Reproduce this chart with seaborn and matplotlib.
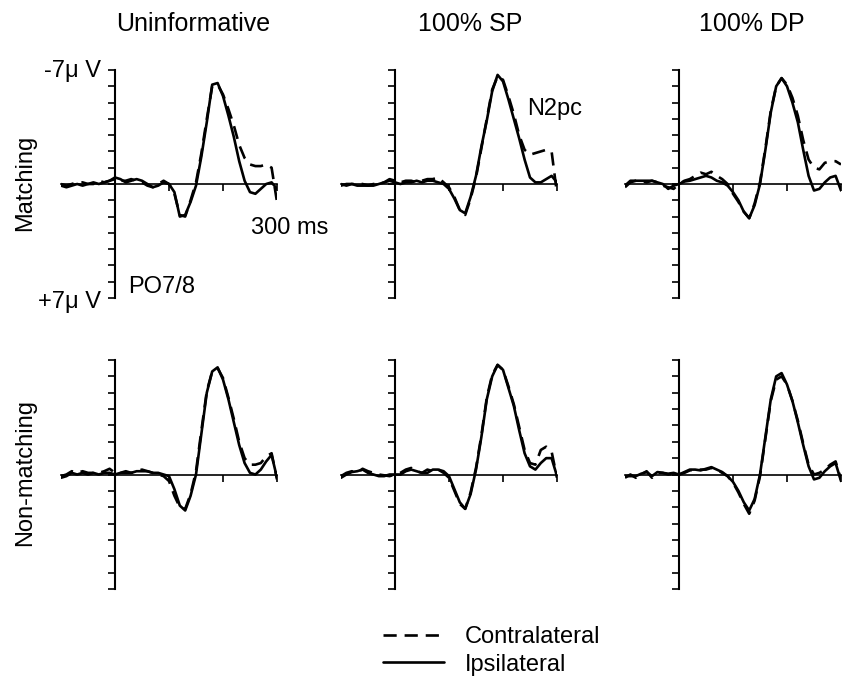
import matplotlib
matplotlib.use("Agg")
import matplotlib.pyplot as plt
import seaborn as sns
import pandas as pd

# ---------------- data (µV, negative plotted upward) ----------------
times = list(range(-100, 301, 10))
columns = ["Uninformative", "100% SP", "100% DP"]
rows = ["Matching", "Non-matching"]
sides = ["Contralateral", "Ipsilateral"]

match_uninf_contra = [0.0, 0.1, 0.0, -0.1, -0.1, 0.0, 0.0, -0.2, -0.1, -0.2, -0.3,
                      -0.2, -0.2, -0.3, -0.2, -0.1, 0.1, 0.2, 0.0, -0.2, 0.0,
                      0.6, 1.9, 2.0, 1.0, -0.1, -1.9, -4.0, -6.0, -6.1, -5.5,
                      -4.6, -3.6, -2.4, -1.6, -1.2, -1.1, -1.1, -1.2, -1.0, 1.1]
match_uninf_ipsi = [0.1, 0.2, 0.1, 0.0, 0.1, 0.0, -0.1, 0.0, -0.1, -0.2, -0.4,
                    -0.3, -0.1, -0.2, -0.3, -0.2, 0.0, 0.2, 0.1, -0.1, 0.0,
                    0.5, 2.0, 1.9, 1.1, 0.1, -1.7, -3.8, -6.1, -6.2, -5.4,
                    -4.2, -2.9, -1.4, -0.2, 0.5, 0.6, 0.3, 0.0, -0.1, 0.3]
match_sp_contra = [0.0, 0.1, 0.0, 0.0, 0.0, 0.1, 0.0, 0.0, -0.1, -0.3, -0.2,
                   -0.1, -0.2, -0.2, -0.1, -0.2, -0.3, -0.3, -0.4, -0.1, 0.2,
                   0.8, 1.6, 1.9, 0.9, -0.4, -2.2, -4.0, -5.8, -6.6, -6.4,
                   -5.4, -4.3, -3.0, -2.1, -1.8, -1.9, -2.0, -2.1, -2.0, 0.6]
match_sp_ipsi = [0.1, 0.0, 0.0, 0.1, 0.1, 0.1, 0.1, 0.0, -0.1, -0.2, -0.1,
                 0.0, -0.1, -0.1, -0.2, -0.1, -0.2, -0.2, -0.1, 0.0, 0.3,
                 0.9, 1.6, 1.8, 0.8, -0.5, -2.3, -3.9, -5.7, -6.7, -6.3,
                 -5.2, -4.0, -2.8, -1.5, -0.4, -0.1, -0.1, -0.3, -0.5, -0.1]
match_dp_contra = [0.2, -0.1, -0.2, -0.2, -0.1, -0.2, -0.1, 0.1, 0.2, 0.3, 0.0,
                   -0.2, -0.3, -0.5, -0.7, -0.6, -0.75, -0.5, -0.3, 0.0, 0.6,
                   1.1, 1.7, 2.1, 1.2, -0.1, -2.2, -4.5, -6.0, -6.5, -6.1,
                   -5.3, -4.2, -2.7, -1.5, -1.0, -0.9, -1.3, -1.4, -1.4, -1.2]
match_dp_ipsi = [0.1, -0.2, -0.2, -0.2, -0.2, -0.2, -0.1, 0.0, 0.3, 0.1, 0.0,
                 -0.15, -0.2, -0.3, -0.4, -0.5, -0.4, -0.2, -0.1, 0.1, 0.5,
                 1.0, 1.7, 2.1, 1.3, 0.0, -2.1, -4.4, -6.0, -6.5, -6.0,
                 -5.0, -3.8, -2.1, -0.5, 0.4, 0.3, -0.1, -0.4, -0.5, 0.4]
nonmatch_uninf_contra = [0.1, 0.0, -0.2, -0.1, -0.2, -0.1, -0.1, -0.1, -0.2, -0.35, -0.1,
                         -0.1, -0.2, -0.1, -0.2, -0.3, -0.2, -0.1, 0.0, 0.1, 0.4,
                         1.3, 2.0, 2.1, 1.2, -0.2, -2.7, -5.1, -6.3, -6.5, -5.9,
                         -4.7, -3.4, -2.0, -1.0, -0.6, -0.6, -0.7, -1.1, -1.3, 0.3]
nonmatch_uninf_ipsi = [0.2, 0.1, -0.1, 0.0, -0.1, 0.0, -0.1, 0.0, -0.1, -0.1, 0.0,
                       -0.1, -0.1, -0.1, -0.2, -0.2, -0.2, -0.1, -0.1, 0.0, 0.1,
                       0.9, 1.9, 2.2, 1.3, 0.0, -2.5, -5.0, -6.3, -6.55, -5.8,
                       -4.6, -3.2, -1.8, -0.7, -0.1, 0.0, -0.3, -0.8, -1.2, 0.2]
nonmatch_sp_contra = [0.1, -0.1, -0.2, -0.1, -0.35, -0.2, -0.1, 0.0, 0.05, 0.1, 0.0,
                      -0.1, -0.3, -0.4, -0.2, -0.1, -0.3, -0.2, -0.3, -0.1, 0.2,
                      1.0, 1.8, 2.1, 1.1, -0.4, -2.4, -4.7, -6.1, -6.7, -6.4,
                      -5.4, -4.3, -2.9, -1.5, -0.7, -0.6, -1.5, -1.7, -1.4, 0.2]
nonmatch_sp_ipsi = [0.2, 0.0, -0.15, -0.2, -0.3, -0.1, 0.0, 0.1, 0.1, 0.0, 0.0,
                    0.0, -0.2, -0.3, -0.2, -0.1, -0.1, -0.3, -0.3, -0.2, 0.1,
                    0.9, 1.7, 2.1, 1.2, -0.3, -2.3, -4.6, -6.0, -6.7, -6.4,
                    -5.3, -4.2, -2.7, -1.3, -0.5, -0.3, -0.7, -1.0, -1.0, 0.1]
nonmatch_dp_contra = [0.2, 0.0, 0.2, 0.0, -0.2, 0.2, -0.1, -0.1, 0.0, -0.05, 0.0,
                      -0.1, -0.25, -0.3, -0.3, -0.3, -0.4, -0.3, -0.1, 0.1, 0.5,
                      1.1, 1.8, 2.4, 1.6, 0.1, -2.2, -4.5, -5.8, -6.0, -5.5,
                      -4.5, -3.3, -1.9, -0.6, 0.0, -0.1, -0.3, -0.6, -0.8, 0.3]
nonmatch_dp_ipsi = [0.1, 0.1, 0.1, -0.05, -0.15, 0.1, -0.15, -0.1, -0.05, -0.1, 0.0,
                    -0.15, -0.3, -0.3, -0.25, -0.35, -0.45, -0.3, -0.15, 0.1, 0.45,
                    1.0, 1.7, 2.2, 1.5, 0.0, -2.3, -4.6, -6.0, -6.2, -5.5,
                    -4.5, -3.2, -1.8, -0.5, 0.3, 0.2, -0.2, -0.5, -0.7, 0.4]

series = {
    ("Matching", "Uninformative"): (match_uninf_contra, match_uninf_ipsi),
    ("Matching", "100% SP"): (match_sp_contra, match_sp_ipsi),
    ("Matching", "100% DP"): (match_dp_contra, match_dp_ipsi),
    ("Non-matching", "Uninformative"): (nonmatch_uninf_contra, nonmatch_uninf_ipsi),
    ("Non-matching", "100% SP"): (nonmatch_sp_contra, nonmatch_sp_ipsi),
    ("Non-matching", "100% DP"): (nonmatch_dp_contra, nonmatch_dp_ipsi),
}

records = []
for (r, c), (contra, ipsi) in series.items():
    for side, vals in zip(sides, (contra, ipsi)):
        for t, v in zip(times, vals):
            records.append({"row": r, "col": c, "side": side, "time": t, "uv": v})
df = pd.DataFrame(records)

# ---------------- figure ----------------
sns.set_style("white")
plt.rcParams["font.family"] = ["Liberation Sans", "DejaVu Sans"]
plt.rcParams["text.color"] = "black"

W, H = 846, 678
fig = plt.figure(figsize=(W / 100, H / 100), dpi=100)

col_left = [61, 341, 625]
ax_w = 216
row_top = [70, 360]
row_bot = [298, 589]

FS = 17
axes = {}
for ri, r in enumerate(rows):
    for ci, c in enumerate(columns):
        ax = fig.add_axes([col_left[ci] / W, 1 - row_bot[ri] / H,
                           ax_w / W, (row_bot[ri] - row_top[ri]) / H])
        ax.patch.set_alpha(0)
        sub = df[(df["row"] == r) & (df["col"] == c)]
        sns.lineplot(data=sub, x="time", y="uv", style="side",
                     style_order=sides,
                     dashes={"Contralateral": (5, 3), "Ipsilateral": ""},
                     color="black", linewidth=1.9, legend=False,
                     estimator=None, ax=ax)
        ax.set_xlim(-100, 300)
        ax.set_ylim(7, -7)
        for s in ("top", "right"):
            ax.spines[s].set_visible(False)
        ax.spines["left"].set_position(("data", 0))
        ax.spines["bottom"].set_position(("data", 0))
        ax.spines["left"].set_linewidth(1.5)
        ax.spines["bottom"].set_linewidth(1.2)
        ax.spines["left"].set_color("black")
        ax.spines["bottom"].set_color("black")
        ax.set_yticks(range(-7, 8))
        ax.set_xticks([100, 200, 300])
        ax.tick_params(axis="y", direction="out", length=5, width=1.2,
                       left=True, labelleft=False, color="black")
        ax.tick_params(axis="x", direction="out", length=5, width=1.2,
                       bottom=True, labelbottom=False, color="black")
        ax.set_xlabel("")
        ax.set_ylabel("")
        axes[(r, c)] = ax

# column titles
title_x = [193, 470, 752]
for c, x in zip(columns, title_x):
    fig.text(x / W, 1 - 24 / H, c, ha="center", va="center", fontsize=18)

# row labels
fig.text(25 / W, 1 - 183 / H, rows[0], rotation=90, ha="center", va="center", fontsize=FS)
fig.text(25 / W, 1 - 473 / H, rows[1], rotation=90, ha="center", va="center", fontsize=FS)

# annotations
fig.text(101 / W, 1 - 71 / H, "-7\u03bc V", ha="right", va="center", fontsize=FS)
fig.text(101 / W, 1 - 302 / H, "+7\u03bc V", ha="right", va="center", fontsize=FS)
fig.text(128 / W, 1 - 287 / H, "PO7/8", ha="left", va="center", fontsize=FS)
fig.text(290 / W, 1 - 228 / H, "300 ms", ha="center", va="center", fontsize=FS)
fig.text(527 / W, 1 - 109 / H, "N2pc", ha="left", va="center", fontsize=FS)

# legend
ax0 = axes[(rows[0], columns[0])]
handles = ax0.lines[:2]
leg = fig.legend(handles, sides, loc="center left",
                 bbox_to_anchor=(383 / W, 1 - 651 / H), frameon=False,
                 fontsize=FS, handlelength=2.6, handletextpad=0.85,
                 borderpad=0, borderaxespad=0, labelspacing=0.22)
for txt in leg.get_texts():
    txt.set_color("black")

fig.savefig("out.png", dpi=100)
